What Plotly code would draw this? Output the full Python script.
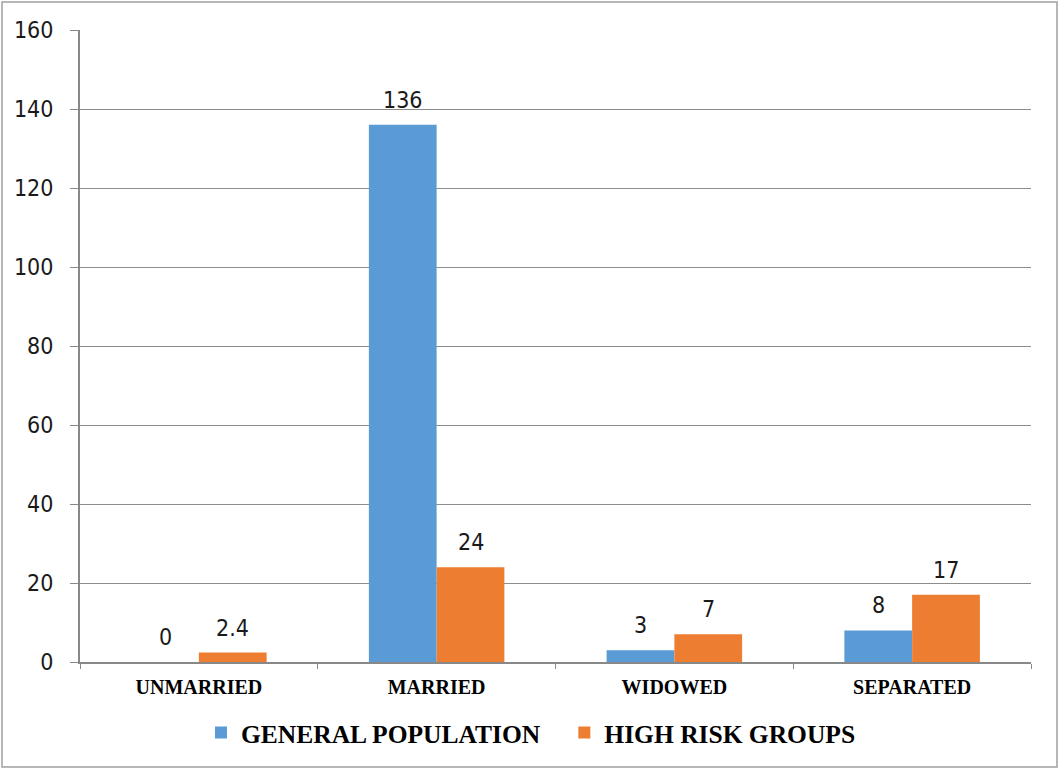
import plotly.graph_objects as go

categories = ["UNMARRIED", "MARRIED", "WIDOWED", "SEPARATED"]
general_population = [0, 136, 3, 8]
high_risk_groups = [2.4, 24, 7, 17]
y_ticks = [0, 20, 40, 60, 80, 100, 120, 140, 160]

W, H = 1060, 769
ML, MR, MT, MB = 80, 29, 30, 107
PW, PH = W - ML - MR, H - MT - MB
BARGAP = 0.43

num_font = dict(family="DejaVu Sans Condensed, Liberation Sans Narrow, Open Sans, sans-serif",
                size=23, color="#1a1a1a")
serif_bold = "Liberation Serif, Times New Roman, serif"

fig = go.Figure()
fig.add_bar(x=categories, y=general_population,
            name="<b>GENERAL POPULATION</b>" + "&nbsp;" * 3,
            marker_color="#5B9BD5", marker_line_width=0)
fig.add_bar(x=categories, y=high_risk_groups, name="<b>HIGH RISK GROUPS</b>",
            marker_color="#ED7D31", marker_line_width=0)

# value labels above each bar, offset to the bar centres within each group
cat_px = PW / len(categories)
half_bar = cat_px * (1 - BARGAP) / 4
annotations = []
for series, shift in ((general_population, -half_bar), (high_risk_groups, half_bar)):
    for cat, val in zip(categories, series):
        annotations.append(dict(x=cat, y=val, xref="x", yref="y", text=str(val),
                                showarrow=False, xshift=shift, yshift=25,
                                yanchor="middle", font=num_font))

def px_x(p):
    return (p - ML) / PW

def px_y(p):
    return (H - MB - p) / PH

fig.update_layout(
    width=W, height=H,
    margin=dict(l=ML, r=MR, t=MT, b=MB, autoexpand=False),
    paper_bgcolor="white", plot_bgcolor="white",
    barmode="group", bargap=BARGAP, bargroupgap=0,
    showlegend=True,
    legend=dict(orientation="h", x=px_x(531), xanchor="center", y=px_y(733), yanchor="middle",
                font=dict(family=serif_bold, size=25.5, color="black"),
                itemwidth=30, traceorder="normal"),
    xaxis=dict(showgrid=False, showline=True, linecolor="#888888", linewidth=2,
               ticks="outside", tickson="boundaries", ticklen=5, tickcolor="#888888",
               tickfont=dict(family=serif_bold, size=20, color="black"),
               tickprefix="<b>", ticksuffix="</b>", ticklabelstandoff=6, automargin=False),
    yaxis=dict(range=[0, 160], tickvals=y_ticks, showgrid=True, gridcolor="#8c8c8c", gridwidth=1,
               showline=True, linecolor="#888888", linewidth=2, ticks="outside", ticklen=8,
               tickcolor="#888888", tickfont=num_font, zeroline=False, ticklabelstandoff=12,
               automargin=False),
    annotations=annotations,
    shapes=[dict(type="rect", xref="paper", yref="paper",
                 x0=px_x(2), x1=px_x(1057), y0=px_y(767), y1=px_y(2),
                 line=dict(color="#a0a0a0", width=1.5), fillcolor="rgba(0,0,0,0)", layer="below")],
)

fig.write_html("out.html")
